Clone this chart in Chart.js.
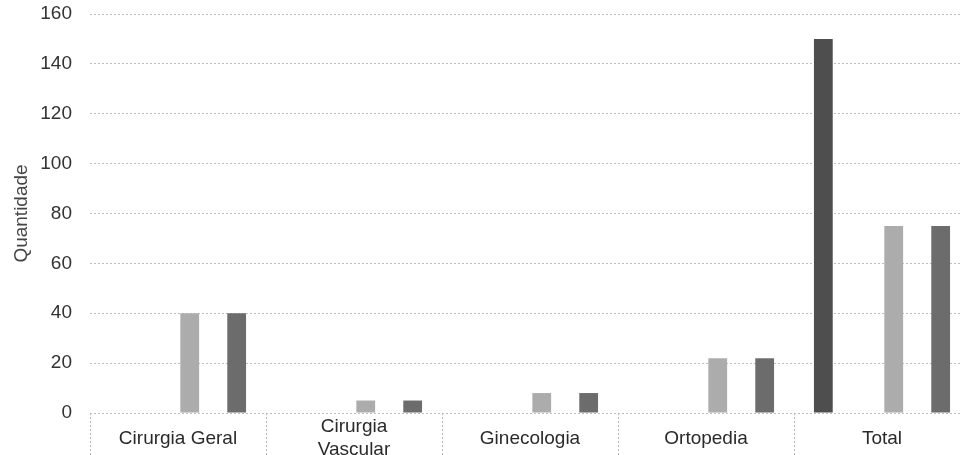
<!DOCTYPE html>
<html>
<head>
<meta charset="utf-8">
<script src="https://cdn.jsdelivr.net/npm/chart.js@4/dist/chart.umd.min.js"></script>
<style>
  html, body { margin: 0; padding: 0; background: #fff; overflow: hidden; }
  #wrap { position: relative; width: 975px; height: 455px; }
</style>
</head>
<body>
<div id="wrap"><canvas id="chart"></canvas></div>
<script>
const categories = ['Cirurgia Geral', ['Cirurgia', 'Vascular'], 'Ginecologia', 'Ortopedia', 'Total'];
const totalValues = [0, 0, 0, 0, 150];
const seriesB = [40, 5, 8, 22, 75];
const seriesC = [40, 5, 8, 22, 75];
const yTicks = [0, 20, 40, 60, 80, 100, 120, 140, 160];

// the original groups bars in 6 slots per category; slots 1, 2 and 4 stay empty
const empty = () => ({ data: [], backgroundColor: 'transparent' });

Chart.defaults.font.family = '"Liberation Sans", Arial, sans-serif';
Chart.defaults.color = '#3a3a3a';

new Chart(document.getElementById('chart'), {
    type: 'bar',
    data: {
        labels: categories,
        datasets: [
            { data: totalValues, backgroundColor: '#4e4e4e' },
            empty(),
            empty(),
            { data: seriesB, backgroundColor: '#acacac' },
            empty(),
            { data: seriesC, backgroundColor: '#6c6c6c' },
        ],
    },
    options: {
        responsive: true,
        maintainAspectRatio: false,
        animation: false,
        categoryPercentage: 0.8,
        barPercentage: 0.8,
        layout: { padding: { left: 0, right: 5, top: 0, bottom: 0 } },
        plugins: {
            legend: { display: false },
            tooltip: { enabled: false },
        },
        scales: {
            x: {
                offset: true,
                grid: {
                    offset: true,
                    drawOnChartArea: false,
                    drawTicks: true,
                    tickLength: 45,
                    tickColor: '#b5b5b5',
                    tickBorderDash: [2, 2],
                },
                border: { display: false },
                ticks: {
                    font: { size: 19 },
                    color: '#2a2a2a',
                    padding: -31,
                    crossAlign: 'center',
                    maxRotation: 0,
                    autoSkip: false,
                },
                afterFit: s => { s.height = 42; },
            },
            y: {
                min: 0,
                max: 160,
                afterBuildTicks: s => { s.ticks = yTicks.map(v => ({ value: v })); },
                afterFit: s => {
                    s.width = 90;
                    s.paddingTop = 14;
                    s.paddingBottom = 0;
                },
                grid: {
                    color: '#bdbdbd',
                    drawTicks: false,
                },
                border: { display: false, dash: [2, 2] },
                ticks: {
                    font: { size: 19 },
                    color: '#333',
                    padding: 18,
                },
                title: {
                    display: true,
                    text: 'Quantidade',
                    font: { size: 19 },
                    color: '#444',
                    padding: { top: 10, bottom: 0 },
                },
            },
        },
    },
});
</script>
</body>
</html>
